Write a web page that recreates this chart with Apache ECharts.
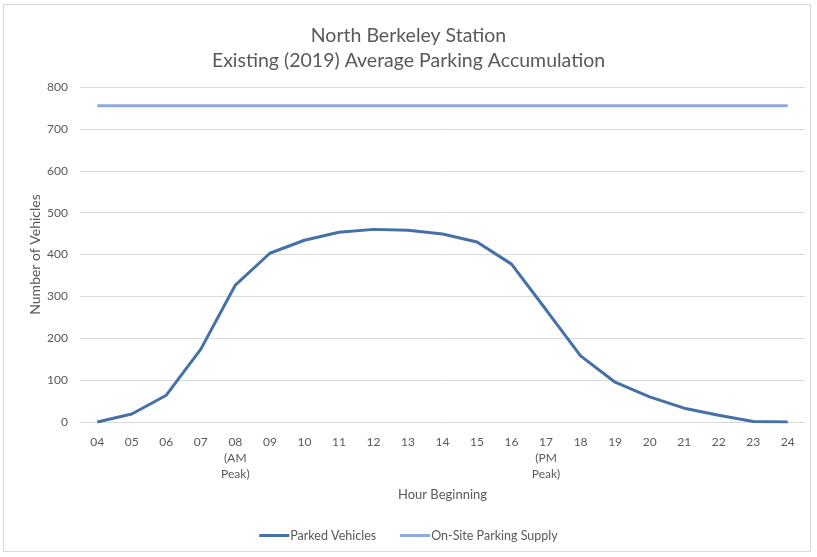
<!DOCTYPE html>
<html><head><meta charset="utf-8">
<script src="https://cdn.jsdelivr.net/npm/echarts@6/dist/echarts.min.js"></script>
<style>
html,body{margin:0;padding:0;background:#fff;}
#frame{position:absolute;left:3px;top:4px;width:808px;height:548px;border:1px solid #d9d9d9;box-sizing:border-box;}
#c{position:absolute;left:0;top:0;width:817px;height:557px;}
</style></head>
<body>
<div id="frame"></div>
<div id="c"></div>
<script>
const hours = ['04','05','06','07','08\n(AM\nPeak)','09','10','11','12','13','14','15','16','17\n(PM\nPeak)','18','19','20','21','22','23','24'];
const parkedVehicles = [0,19,64,174,327,403,434,453,460,458,449,430,377,268,158,95,60,33,16,1,0];
const supplyValue = 755;
const onSiteSupply = hours.map(() => supplyValue);
const yTicks = [0,100,200,300,400,500,600,700,800];

const font = 'Lato, "Open Sans", sans-serif';
const chart = echarts.init(document.getElementById('c'));
chart.setOption({
  animation:false,
  textStyle:{fontFamily:font},
  title:{
    text:'North Berkeley Station\nExisting (2019) Average Parking Accumulation',
    left:'center', top:18,
    textStyle:{fontFamily:font,fontSize:19.5,fontWeight:'normal',color:'#595959',lineHeight:25}
  },
  grid:{left:80,right:12,top:87,bottom:135},
  legend:{
    bottom:10,left:'center',itemWidth:30,itemHeight:3,itemGap:24,
    icon:'rect',
    textStyle:{fontFamily:font,fontSize:12.5,color:'#595959',padding:[0,0,0,-4]},
    data:['Parked Vehicles','On-Site Parking Supply']
  },
  xAxis:{
    type:'category',data:hours,boundaryGap:true,
    name:'Hour Beginning',nameLocation:'middle',nameGap:66,nameMoveOverlap:false,
    nameTextStyle:{fontFamily:font,fontSize:13,color:'#595959'},
    axisLine:{lineStyle:{color:'#d9d9d9',width:1}},
    axisTick:{show:false},
    axisLabel:{color:'#595959',fontSize:12,fontFamily:font,margin:12,lineHeight:16,interval:0}
  },
  yAxis:{
    type:'value',min:0,max:800,interval:100,
    name:'Number of Vehicles',nameLocation:'middle',nameGap:38,nameRotate:90,nameMoveOverlap:false,
    nameTextStyle:{fontFamily:font,fontSize:14,color:'#595959'},
    axisLine:{show:false},axisTick:{show:false},
    axisLabel:{color:'#595959',fontSize:12,fontFamily:font,margin:12},
    splitLine:{lineStyle:{color:'#d9d9d9',width:1}}
  },
  series:[
    {name:'Parked Vehicles',type:'line',data:parkedVehicles,showSymbol:false,symbol:'none',
     lineStyle:{color:'#4571a8',width:3},itemStyle:{color:'#4571a8'}},
    {name:'On-Site Parking Supply',type:'line',data:onSiteSupply,showSymbol:false,symbol:'none',
     lineStyle:{color:'#8eaadb',width:3},itemStyle:{color:'#8eaadb'}}
  ]
});
</script>
</body></html>
